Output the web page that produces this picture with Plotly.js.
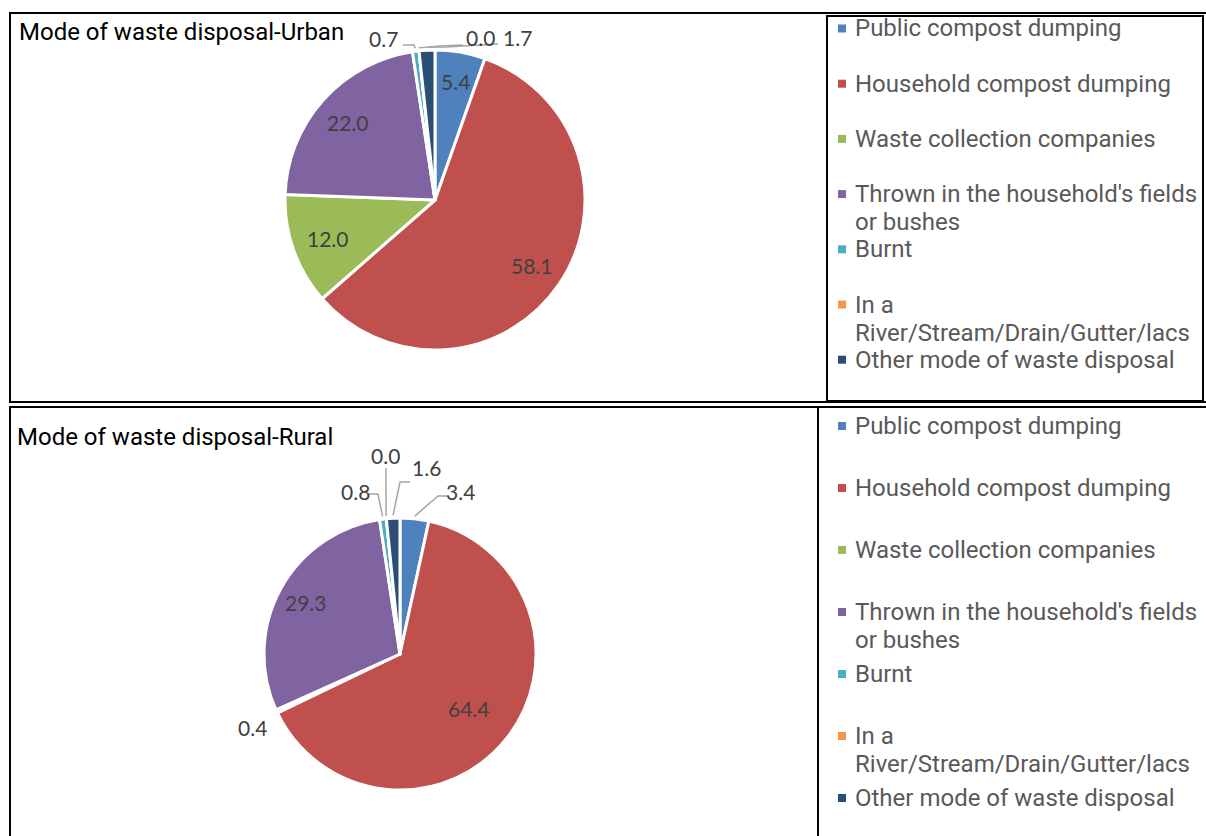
<!DOCTYPE html>
<html>
<head>
<meta charset="utf-8">
<script src="https://cdn.plot.ly/plotly-3.0.1.min.js"></script>
<style>
  html, body { margin: 0; padding: 0; background: #ffffff; }
  #chart { width: 1206px; height: 836px; }
</style>
</head>
<body>
<div id="chart"></div>
<script>
// ---- data ----
const categories = [
  "Public compost dumping",
  "Household compost dumping",
  "Waste collection companies",
  "Thrown in the household's fields<br>or bushes",
  "Burnt",
  "In a<br>River/Stream/Drain/Gutter/lacs",
  "Other mode of waste disposal"
];
const urbanValues = [5.4, 58.1, 12.0, 22.0, 0.7, 0.0, 1.7];
const ruralValues = [3.4, 64.4, 0.4, 29.3, 0.8, 0.0, 1.6];
const colors = ["#4F81BD", "#C0504D", "#9BBB59", "#8064A2", "#4BACC6", "#F79646", "#2C4D75"];
const urbanTitle = "Mode of waste disposal-Urban";
const ruralTitle = "Mode of waste disposal-Rural";

// ---- layout helpers (pixel positions -> paper) ----
const W = 1206, H = 836;
const px = x => x / W;
const py = y => 1 - y / H;
const TITLE_FONT = "Roboto, 'Noto Sans', sans-serif";
const LABEL_FONT = "Lato, Roboto, sans-serif";
const LABEL_COLOR = "#404040";
const LEADER_COLOR = "#A6A6A6";

// pie geometry (pixels)
const urbanGeo = { cx: 435, cy: 200, r: 150 };
const ruralGeo = { cx: 400, cy: 654, r: 136 };

// data-label placement: k = radial fraction for inside labels,
// otherwise text position + leader elbow points (tip comes from the slice angle)
const urbanLabelPlace = [
  { k: 0.80 }, { k: 0.78 }, { k: 0.76 }, { k: 0.78 },
  { t: [383, 39], pts: [[403, 45], [414, 45]] },
  { t: [480, 38], pts: [[463, 45], [440, 46]] },
  { t: [517, 38], pts: [[498, 44], [446, 47]] }
];
const ruralLabelPlace = [
  { t: [460, 491], pts: [[449, 496], [438, 496]] },
  { k: 0.65 },
  { t: [252, 727] },
  { k: 0.79 },
  { t: [355, 491], pts: [[367, 494], [378, 494]] },
  { t: [385, 455], pts: [[386, 468]] },
  { t: [426, 467], pts: [[410, 482], [400, 482]] }
];

function midAngles(vals) {
  const total = vals.reduce((a, b) => a + b, 0);
  let cum = 0;
  return vals.map(v => { const m = (cum + v / 2) / total * 2 * Math.PI; cum += v; return m; });
}

function pieTrace(values, geo) {
  return {
    type: "pie",
    labels: categories,
    values: values,
    sort: false,
    direction: "clockwise",
    rotation: 0,
    marker: { colors: colors, line: { color: "#ffffff", width: 3 } },
    textinfo: "none",
    showlegend: false,
    domain: { x: [px(geo.cx - geo.r), px(geo.cx + geo.r)], y: [py(geo.cy + geo.r), py(geo.cy - geo.r)] },
    hoverinfo: "label+value"
  };
}

function dataLabels(values, geo, place, annotations, shapes) {
  const angs = midAngles(values);
  values.forEach((v, i) => {
    const a = angs[i], p = place[i];
    let tx, ty;
    if (p.k !== undefined) {
      tx = geo.cx + p.k * geo.r * Math.sin(a);
      ty = geo.cy - p.k * geo.r * Math.cos(a);
    } else {
      tx = p.t[0]; ty = p.t[1];
      if (p.pts) {
        const tip = [geo.cx + 1.02 * geo.r * Math.sin(a), geo.cy - 1.02 * geo.r * Math.cos(a)];
        const all = p.pts.concat([tip]);
        const d = all.map((q, j) => (j ? "L" : "M") + px(q[0]).toFixed(5) + "," + py(q[1]).toFixed(5)).join(" ");
        shapes.push({ type: "path", xref: "paper", yref: "paper", path: d, line: { color: LEADER_COLOR, width: 1.5 } });
      }
    }
    annotations.push({
      text: v.toFixed(1), xref: "paper", yref: "paper", x: px(tx), y: py(ty),
      xanchor: "center", yanchor: "middle", showarrow: false,
      font: { family: LABEL_FONT, size: 21, color: LABEL_COLOR }
    });
  });
}

function legendBlock(startY, step, annotations, shapes) {
  categories.forEach((c, i) => {
    const lines = c.split("<br>");
    const y0 = startY + i * step;
    shapes.push({ type: "rect", xref: "paper", yref: "paper",
      x0: px(838), x1: px(846), y0: py(y0 + 4), y1: py(y0 - 4),
      fillcolor: colors[i], line: { width: 0 } });
    lines.forEach((ln, j) => {
      annotations.push({
        text: ln, xref: "paper", yref: "paper", x: px(853), y: py(y0 + j * 28),
        xanchor: "left", yanchor: "middle", showarrow: false,
        font: { family: TITLE_FONT, size: 24, color: "#595959" }
      });
    });
  });
}

const annotations = [
  { text: urbanTitle, xref: "paper", yref: "paper", x: px(17), y: py(32), xanchor: "left", yanchor: "middle",
    showarrow: false, font: { family: TITLE_FONT, size: 24, color: "#000000" } },
  { text: ruralTitle, xref: "paper", yref: "paper", x: px(15), y: py(437), xanchor: "left", yanchor: "middle",
    showarrow: false, font: { family: TITLE_FONT, size: 24, color: "#000000" } }
];
const shapes = [
  { type: "rect", xref: "paper", yref: "paper", x0: px(10), x1: px(1212), y0: py(402), y1: py(13), line: { color: "#000", width: 2 } },
  { type: "rect", xref: "paper", yref: "paper", x0: px(827), x1: px(1203), y0: py(401), y1: py(16), line: { color: "#000", width: 2 } },
  { type: "rect", xref: "paper", yref: "paper", x0: px(10), x1: px(1212), y0: py(842), y1: py(407), line: { color: "#000", width: 2 } },
  { type: "line", xref: "paper", yref: "paper", x0: px(818), x1: px(818), y0: py(842), y1: py(407), line: { color: "#000", width: 2 } }
];

dataLabels(urbanValues, urbanGeo, urbanLabelPlace, annotations, shapes);
dataLabels(ruralValues, ruralGeo, ruralLabelPlace, annotations, shapes);
legendBlock(28.5, 55.2, annotations, shapes);
legendBlock(426, 62, annotations, shapes);

const layout = {
  width: W, height: H,
  margin: { l: 0, r: 0, t: 0, b: 0 },
  paper_bgcolor: "#ffffff",
  showlegend: false,
  annotations: annotations,
  shapes: shapes
};

Plotly.newPlot("chart", [pieTrace(urbanValues, urbanGeo), pieTrace(ruralValues, ruralGeo)], layout,
  { displayModeBar: false, staticPlot: true });
</script>
</body>
</html>
